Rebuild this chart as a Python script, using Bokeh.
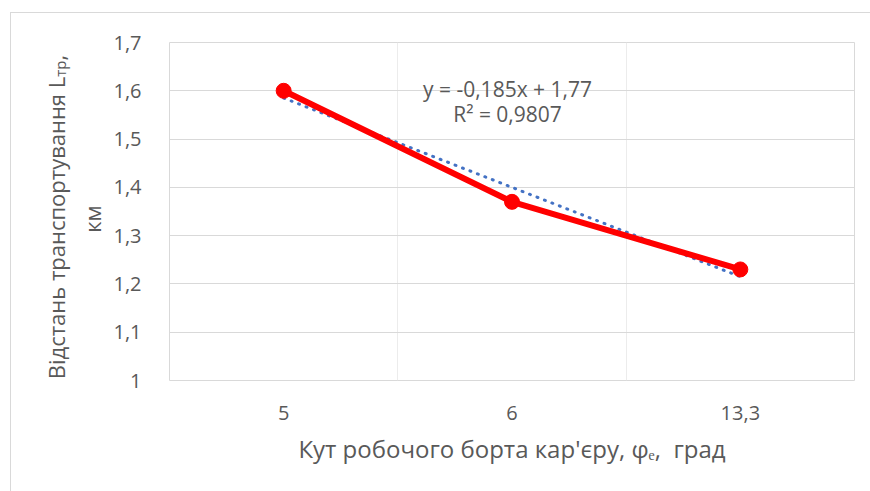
from bokeh.plotting import figure
from bokeh.models import FixedTicker, Label, Range1d, Div
from bokeh.layouts import column, row
from bokeh.embed import file_html
from bokeh.resources import INLINE

categories = ["5", "6", "13,3"]
distance = [1.60, 1.37, 1.23]
trend_ends = [1.585, 1.215]
y_ticks = [1.0, 1.1, 1.2, 1.3, 1.4, 1.5, 1.6, 1.7]
y_tick_labels = ["1", "1,1", "1,2", "1,3", "1,4", "1,5", "1,6", "1,7"]
equation = "y = -0,185x + 1,77"
r_squared = "R² = 0,9807"
x_title = "Кут робочого борта кар'єру, φₑ,\u00a0 град"
y_title_main, y_title_sub, y_title_end = "Відстань транспортування L", "тр", ","
y_title_line2 = "км"

FONT = "Open Sans"
GREY = "#595959"
BORDER = "#d9d9d9"

W, H = 870, 491
TOP = 28          # height of the top strip
LEFTW = 110       # width of the left title strip
PL, PR, PT, PB = 59, 16, 14, 111   # main figure borders
PW, PH = W - LEFTW, H - TOP

x0, x1 = 0.5, len(categories) + 0.5
y0, y1 = 1.0, 1.7
fw, fh = PW - PL - PR, PH - PT - PB
frame_left = LEFTW + PL

def dx(px):
    return x0 + (px - frame_left) * (x1 - x0) / fw

def dy(py):
    return y0 + (H - PB - py) * (y1 - y0) / fh

# top strip: outer chart border (top-left corner)
top_html = (
    f'<div style="position:relative;width:{W}px;height:{TOP}px;overflow:hidden;background:white;">'
    f'<div style="position:absolute;left:10px;top:12px;width:{W}px;height:{TOP}px;'
    f'border-top:1px solid {BORDER};border-left:1px solid {BORDER};"></div></div>'
)
top = Div(text=top_html, width=W, height=TOP, margin=(0, 0, 0, 0))

# left strip: rotated y-axis title with subscript
def vline(text_html, cx, cy, length=360, thick=30, size=22):
    return (
        f'<div style="position:absolute;left:{cx - length / 2}px;top:{cy - thick / 2}px;'
        f'width:{length}px;height:{thick}px;transform:rotate(-90deg);'
        f'display:flex;justify-content:center;align-items:center;white-space:nowrap;'
        f'font-family:\'{FONT}\';font-size:{size}px;color:{GREY};line-height:{thick}px;">'
        f'{text_html}</div>'
    )

line1 = (f'{y_title_main}<span style="font-size:15px;position:relative;top:4px;">'
         f'{y_title_sub}</span>{y_title_end}')
left_html = (
    f'<div style="position:relative;width:{LEFTW}px;height:{PH}px;overflow:hidden;background:white;">'
    f'<div style="position:absolute;left:10px;top:0px;width:0px;height:{PH}px;'
    f'border-left:1px solid {BORDER};"></div>'
    + vline(line1, 55.5, 216.5 - TOP)
    + vline(y_title_line2, 91.5, 219 - TOP)
    + '</div>'
)
left = Div(text=left_html, width=LEFTW, height=PH, margin=(0, 0, 0, 0))

xs = list(range(1, len(categories) + 1))

p = figure(width=PW, height=PH, output_backend="svg", toolbar_location=None, title=None,
           x_range=Range1d(x0, x1), y_range=Range1d(y0, y1),
           min_border_left=PL, min_border_right=PR, min_border_top=PT, min_border_bottom=PB)
p.background_fill_color = "white"
p.border_fill_color = "white"
p.outline_line_color = BORDER
p.outline_line_width = 1

p.xaxis.ticker = FixedTicker(ticks=xs)
p.xaxis.major_label_overrides = {x: c for x, c in zip(xs, categories)}
p.yaxis.ticker = FixedTicker(ticks=y_ticks)
p.yaxis.major_label_overrides = {t: s for t, s in zip(y_ticks, y_tick_labels)}
for ax in (p.xaxis, p.yaxis):
    ax.axis_line_color = None
    ax.major_tick_line_color = None
    ax.minor_tick_line_color = None
    ax.major_label_text_font = FONT
    ax.major_label_text_font_size = "20px"
    ax.major_label_text_color = GREY
p.yaxis.major_label_standoff = 22
p.xaxis.major_label_standoff = 19

p.xaxis.axis_label = x_title
p.xaxis.axis_label_text_font = FONT
p.xaxis.axis_label_text_font_size = "24px"
p.xaxis.axis_label_text_font_style = "normal"
p.xaxis.axis_label_text_color = GREY
p.xaxis.axis_label_standoff = 9

p.ygrid.ticker = FixedTicker(ticks=y_ticks)
p.ygrid.grid_line_color = BORDER
p.xgrid.ticker = FixedTicker(ticks=[x + 0.5 for x in xs[:-1]])
p.xgrid.grid_line_color = "#ececec"

# trendline
p.line([xs[0], xs[-1]], trend_ends, line_color="#4472C4", line_width=3,
       line_dash="1 7", line_cap="round")
# series
p.line(xs, distance, line_color="#ff0000", line_width=6, line_join="round")
p.scatter(xs, distance, size=15, fill_color="#ff0000", line_color="#ff0000")

p.add_layout(Label(x=dx(507), y=dy(88), text=equation, text_align="center",
                   text_baseline="middle", text_font=FONT, text_font_size="21px",
                   text_color=GREY))
p.add_layout(Label(x=dx(507), y=dy(113), text=r_squared, text_align="center",
                   text_baseline="middle", text_font=FONT, text_font_size="21px",
                   text_color=GREY))

layout = column(top, row(left, p, spacing=0), spacing=0)
open("out.html", "w").write(file_html(layout, INLINE))
